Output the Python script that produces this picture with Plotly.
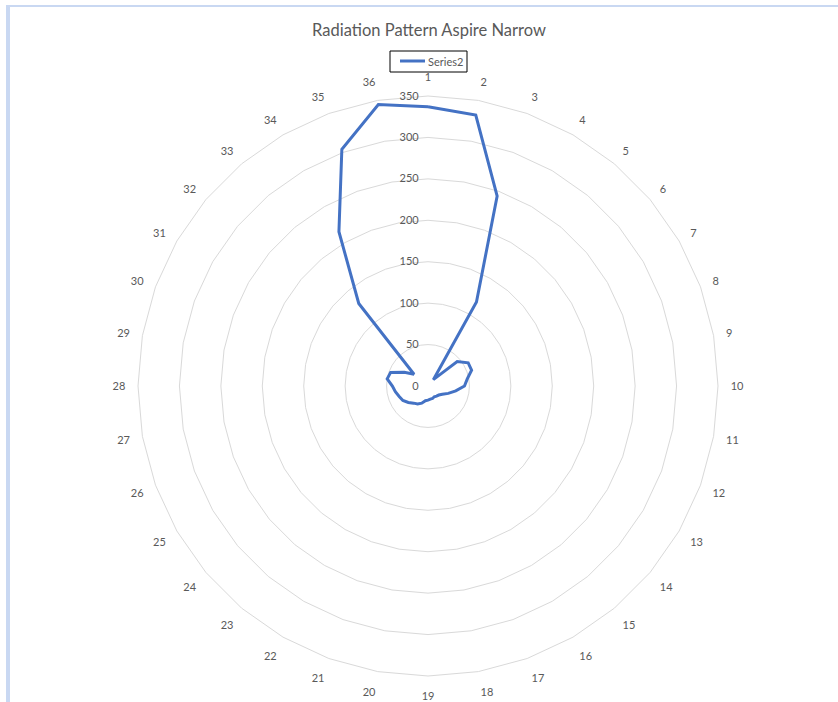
import plotly.graph_objects as go

categories = [str(i) for i in range(1, 37)]
series2 = [337, 332, 244, 117, 10, 46, 56, 56, 48, 44,
           34, 26, 20, 17, 16, 15, 16, 16, 17, 18,
           22, 25, 27, 31, 35, 37, 40, 43, 50, 48,
           33, 22, 130, 215, 304, 345]
radial_ticks = [0, 50, 100, 150, 200, 250, 300, 350]
series_name = "Series2"
line_color = "#4472C4"

W, H = 838, 702
cx, cy, R = 428, 386, 290


def px(x):
    return x / W


def py(y):
    return 1 - y / H


fig = go.Figure()
fig.add_trace(go.Scatterpolar(
    r=series2 + [series2[0]],
    theta=categories + [categories[0]],
    mode="lines",
    name=series_name,
    line=dict(color=line_color, width=3),
    showlegend=False,
))

fig.update_layout(
    width=W, height=H,
    margin=dict(l=0, r=0, t=0, b=0),
    paper_bgcolor="white",
    plot_bgcolor="white",
    font=dict(family="Lato, Open Sans, sans-serif", color="#595959", size=11),
    title=dict(text="Radiation Pattern Aspire Narrow", x=px(429), xanchor="center",
               y=py(30), yanchor="middle",
               font=dict(size=16.5, color="#595959")),
    showlegend=False,
    polar=dict(
        domain=dict(x=[px(cx - R), px(cx + R)], y=[py(cy + R), py(cy - R)]),
        bgcolor="white",
        gridshape="linear",
        angularaxis=dict(
            type="category",
            categoryorder="array", categoryarray=categories,
            direction="clockwise", rotation=90,
            showgrid=False, showline=True, linecolor="#D9D9D9", linewidth=1,
            ticks="outside", ticklen=10, tickcolor="rgba(0,0,0,0)",
            tickfont=dict(size=11, color="#595959"),
        ),
        radialaxis=dict(
            range=[0, 350], tickvals=radial_ticks, angle=90,
            showline=False, ticks="outside", ticklen=5, tickcolor="rgba(0,0,0,0)",
            showgrid=True, gridcolor="#D9D9D9", gridwidth=1,
            tickfont=dict(size=11, color="#595959"), side="counterclockwise",
            tickangle=90,
        ),
    ),
    shapes=[
        dict(type="rect", xref="paper", yref="paper", x0=px(6), x1=px(10), y0=0, y1=py(5),
             fillcolor="#C9D8F2", line=dict(width=0)),
        dict(type="rect", xref="paper", yref="paper", x0=px(6), x1=1, y0=py(7), y1=py(5),
             fillcolor="#C9D8F2", line=dict(width=0)),
        # legend box and line sample
        dict(type="rect", xref="paper", yref="paper", x0=px(390), x1=px(467), y0=py(72), y1=py(51),
             fillcolor="white", line=dict(color="black", width=1)),
        dict(type="line", xref="paper", yref="paper", x0=px(400), x1=px(425), y0=py(61), y1=py(61),
             line=dict(color=line_color, width=3)),
    ],
    annotations=[
        dict(text=series_name, xref="paper", yref="paper", x=px(426), y=py(61),
             xanchor="left", yanchor="middle", showarrow=False,
             font=dict(size=11, color="#595959")),
    ],
)

fig.write_html("out.html", post_script="document.body.style.margin='0';",
               config={"displayModeBar": False})
